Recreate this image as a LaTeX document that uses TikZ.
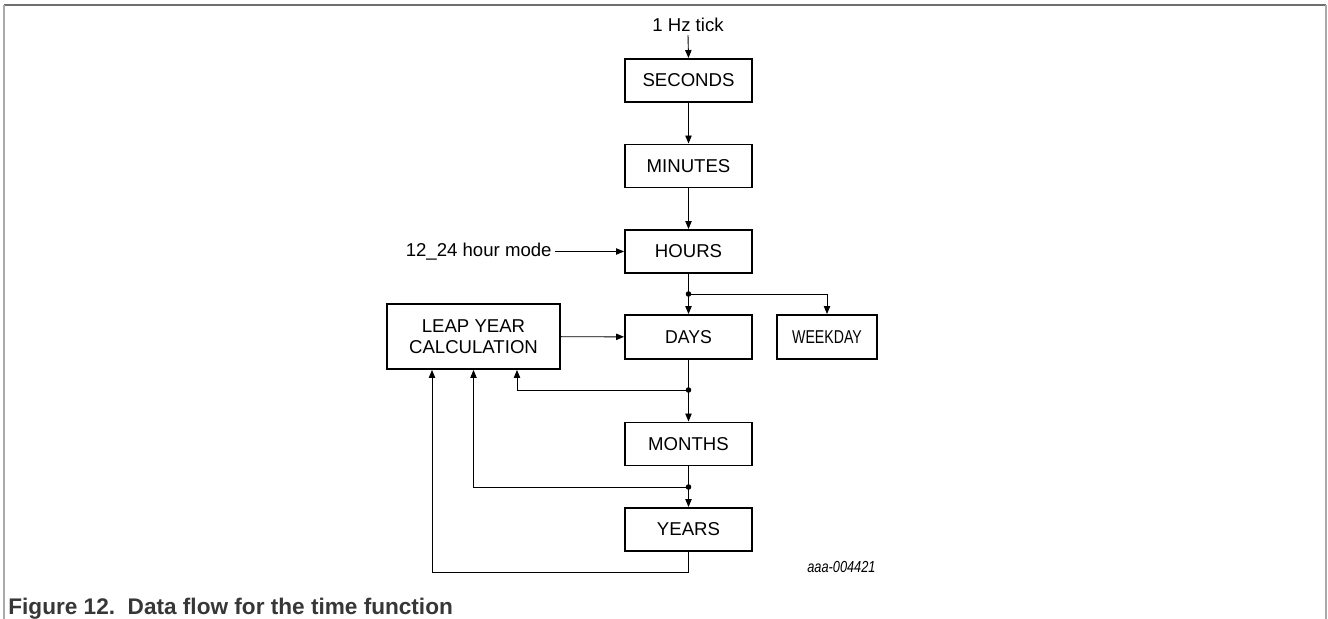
\documentclass[tikz,border=0pt]{standalone}
\usepackage{fontspec}
\setmainfont{Liberation Sans}
\newfontfamily\condfont[FakeStretch=0.8]{Liberation Sans}
\newfontfamily\wkfont[FakeStretch=0.76]{Liberation Sans}
\newfontfamily\dayfont[FakeStretch=0.95]{Liberation Sans}
\usetikzlibrary{arrows.meta}
\definecolor{frametop}{RGB}{110,110,110}
\definecolor{frameside}{RGB}{170,170,170}
\definecolor{captioncol}{RGB}{55,55,55}
\begin{document}
\begin{tikzpicture}[x=0.5pt,y=-0.5pt,
  box/.style={draw, line width=0.95pt, minimum width=63.5pt, minimum height=21.5pt, inner sep=0pt, font=\fontsize{9.3}{11}\selectfont, align=center},
  lbl/.style={inner sep=1.5pt, font=\fontsize{9.3}{11}\selectfont},
  conn/.style={line width=0.45pt},
  arr/.style={conn, -{Triangle[length=4pt,width=3.2pt]}},
  jdot/.style={circle, fill, inner sep=0pt, minimum size=2.8pt}]
\useasboundingbox (0,0) rectangle (1328,619);
% frame
\draw[frametop, line width=0.6pt] (4,5) -- (1326,5);
\draw[frameside, line width=0.6pt] (4,5) -- (4,619);
\draw[frameside, line width=0.6pt] (1326,5) -- (1326,619);
% boxes
\node[box] (sec) at (688.5,80.5) {SECONDS};
\node[box] (min) at (688.5,166) {MINUTES};
\node[box] (hrs) at (688.5,251.5) {HOURS};
\node[box, minimum height=22pt, font=\dayfont\fontsize{9.3}{11}\selectfont] (days) at (688.5,337) {DAYS};
\node[box, minimum width=50pt, minimum height=22pt, font=\wkfont\fontsize{9.3}{11}\selectfont] (wk) at (827,337) {WEEKDAY};
\node[box, minimum width=86.5pt, minimum height=32.5pt, font=\fontsize{9.3}{10.6}\selectfont] (leap) at (473.5,336.5) {LEAP YEAR\\CALCULATION};
\node[box] (mon) at (688.5,444) {MONTHS};
\node[box] (yrs) at (688.5,529.5) {YEARS};
% labels
\node[lbl] (tick) at (688,25) {1 Hz tick};
\node[lbl, anchor=east] (mode) at (555,251.5) {12\_24 hour mode};
\node[inner sep=0pt, anchor=east, font=\condfont\itshape\fontsize{8}{9}\selectfont] (id) at (876,567) {aaa-004421};
\node[inner sep=0pt, anchor=base west, text=captioncol, font=\bfseries\fontsize{11.3}{13}\selectfont] (cap) at (8,615) {Figure 12.\ \ Data flow for the time function};
% junctions
\coordinate (j1) at (688.5,294);
\coordinate (j2) at (688.5,390);
\coordinate (j3) at (688.5,487);
% connectors
\draw[arr] (tick.south) -- (sec.north);
\draw[arr] (sec) -- (min);
\draw[arr] (min) -- (hrs);
\draw[arr] (mode) -- (hrs);
\draw[conn] (hrs) -- (j1);
\draw[arr] (j1) -- (days);
\draw[arr] (j1) -| (wk);
\draw[arr] (leap) -- (days);
\draw[conn] (days) -- (j2);
\draw[arr] (j2) -- (mon);
\draw[arr] (j2) -| ([xshift=21.75pt]leap.south);
\draw[conn] (mon) -- (j3);
\draw[arr] (j3) -- (yrs);
\draw[arr] (j3) -| (leap.south);
\draw[arr] (yrs.south) -- ++(0,21) -| ([xshift=-20.75pt]leap.south);
\node[jdot] at (j1) {};
\node[jdot] at (j2) {};
\node[jdot] at (j3) {};
\end{tikzpicture}
\end{document}
